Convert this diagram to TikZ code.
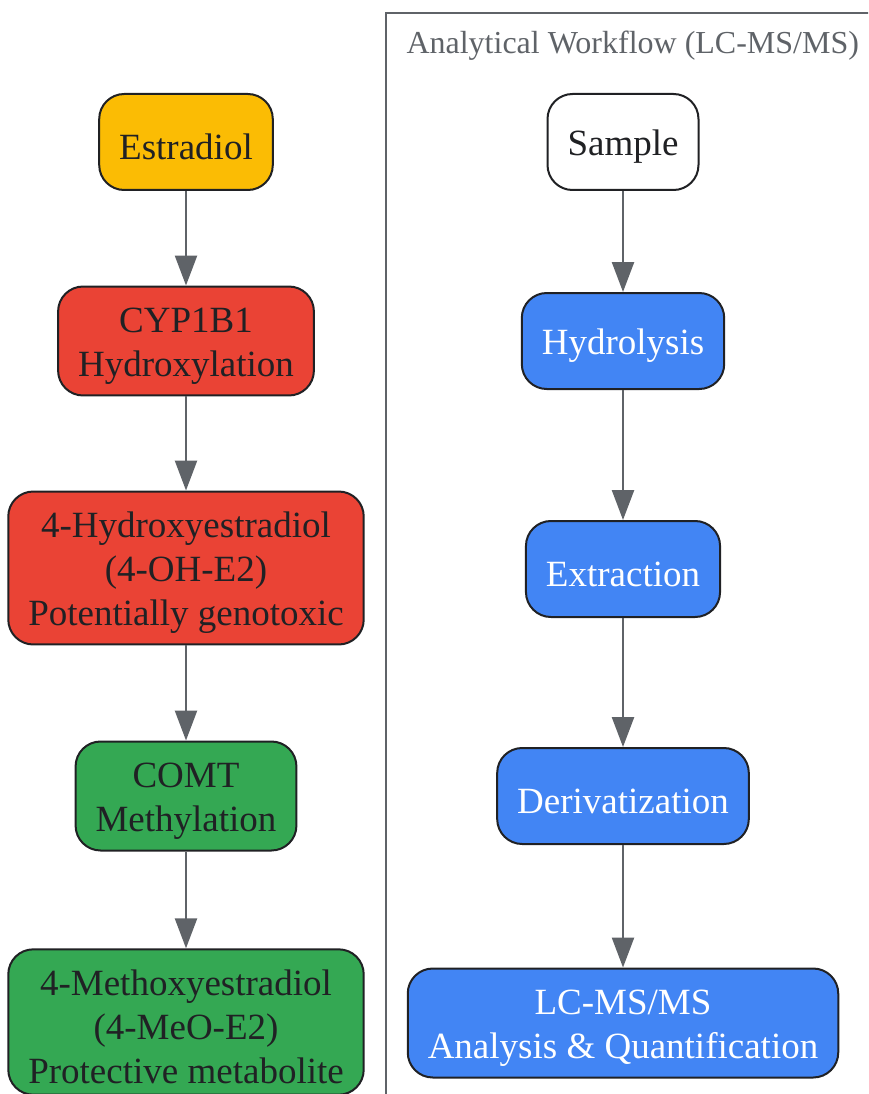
\documentclass[tikz,border=0pt]{standalone}
\usepackage{fontspec}
\setmainfont{Liberation Serif}
\usetikzlibrary{arrows.meta}
\usetikzlibrary{positioning}
\definecolor{edgegray}{HTML}{5F6368}
\definecolor{inkdark}{HTML}{202124}
\definecolor{estrayellow}{HTML}{FBBC04}
\definecolor{toxred}{HTML}{EA4335}
\definecolor{safegreen}{HTML}{34A853}
\definecolor{labblue}{HTML}{4285F4}
%taller first line pushes the text a little down
\newcommand{\tallstrut}{\rule{0pt}{35pt}}
\tikzset{stepnode/.style={draw=inkdark, line width=2pt, rounded corners=25pt, align=center,
		minimum height=96pt, inner xsep=20pt, inner ysep=11pt, text=inkdark,
		font=\fontsize{37}{44}\selectfont,
		execute at begin node={\tallstrut}},
	flow/.style={draw=edgegray, line width=2.5pt, -{Triangle[length=30pt, width=22pt]}, edgegray}}

\begin{document}
\begin{tikzpicture}[x=1pt, y=-1pt]
		\useasboundingbox (0,0) rectangle (868,1094);
		\clip (0,0) rectangle (868,1094);
%		\draw[step=50,help lines,black!20] (0,0) grid (868,1094);
		\draw[edgegray, line width=2pt] (386,13) rectangle (900,1130);
		\node[anchor=west, text=edgegray, font=\fontsize{32}{38}\selectfont] (title) at (403,46) {Analytical Workflow (LC-MS/MS)};

		% metabolism column
		\node[stepnode, fill=estrayellow] (estradiol) at (186,142) {Estradiol};
		\node[stepnode, fill=toxred] (cyp) at (186,341) {\tallstrut CYP1B1\\Hydroxylation};
		\node[stepnode, fill=toxred] (ohe) at (186,568) {\tallstrut 4-Hydroxyestradiol\\(4-OH-E2)\\Potentially genotoxic};
		\node[stepnode, fill=safegreen] (comt) at (186,796) {\tallstrut COMT\\Methylation};
		\node[stepnode, fill=safegreen] (meoe) at (186,1022) {\tallstrut 4-Methoxyestradiol\\(4-MeO-E2)\\Protective metabolite};

		% analysis column
		\node[stepnode, fill=white] (sample) at (623,142) {Sample};
		\node[stepnode, fill=labblue, text=white] (hydro) at (623,341) {Hydrolysis};
		\node[stepnode, fill=labblue, text=white] (extract) at (623,569) {Extraction};
		\node[stepnode, fill=labblue, text=white] (deriv) at (623,796) {Derivatization};
		\node[stepnode, fill=labblue, text=white] (lcms) at (623,1023) {\tallstrut LC-MS/MS\\Analysis \& Quantification};

		\draw[flow] (estradiol) -- (cyp);
		\draw[flow] (cyp) -- (ohe);
		\draw[flow] (ohe) -- (comt);
		\draw[flow] (comt) -- (meoe);
		\draw[flow] (sample) -- (hydro);
		\draw[flow] (hydro) -- (extract);
		\draw[flow] (extract) -- (deriv);
		\draw[flow] (deriv) -- (lcms);
	\end{tikzpicture}
\end{document}
